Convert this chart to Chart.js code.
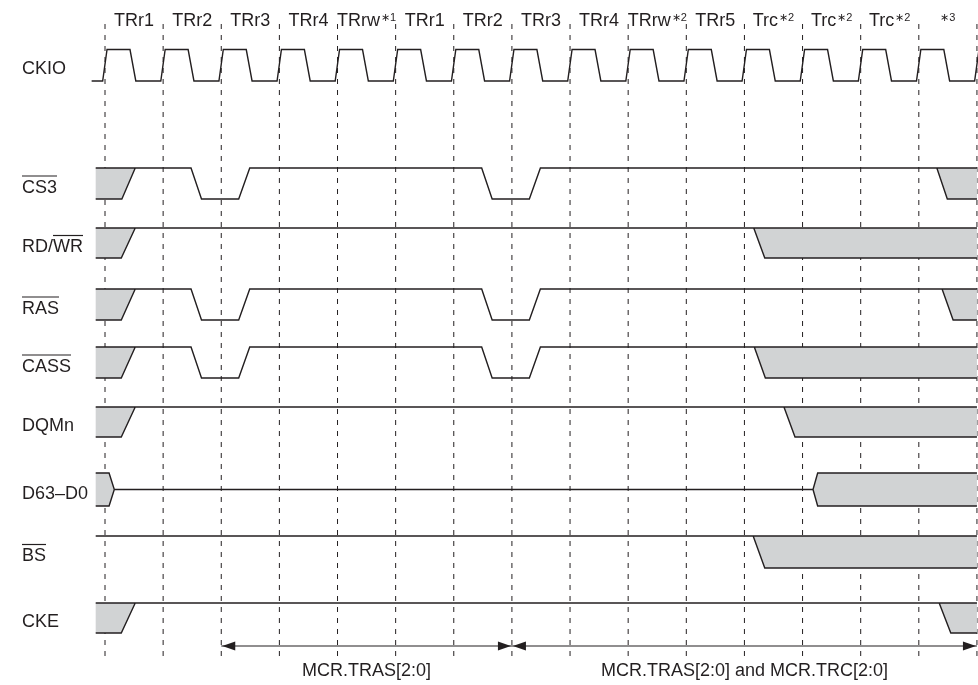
<!DOCTYPE html>
<html>
<head>
<meta charset="utf-8">
<title>SDRAM auto-precharge read timing</title>
<script src="https://cdn.jsdelivr.net/npm/chart.js@4.4.0/dist/chart.umd.min.js"></script>
<style>
  html, body { margin: 0; padding: 0; background: #fff; }
  canvas { display: block; }
</style>
</head>
<body>
<canvas id="timing" width="978" height="685"></canvas>
<script>
// cycle names along the top, with the footnote marks that follow them
const cycleNames = ['TRr1', 'TRr2', 'TRr3', 'TRr4', 'TRrw', 'TRr1', 'TRr2', 'TRr3', 'TRr4', 'TRrw', 'TRr5', 'Trc', 'Trc', 'Trc', ''];
const cycleNotes = ['', '', '', '', '∗1', '', '', '', '', '∗2', '', '∗2', '∗2', '∗2', '∗3'];
const cycleBounds = [0, 1, 2, 3, 4, 5, 6, 7, 8, 9, 10, 11, 12, 13, 14, 15];

// signal names; overline = [first char, last char) that carries the bar
const signalNames = ['CKIO', 'CS3', 'RD/WR', 'RAS', 'CASS', 'DQMn', 'D63–D0', 'BS', 'CKE'];
const overlines = [null, [0, 3], [3, 5], [0, 3], [0, 4], null, null, [0, 2], null];

// clock edges, in cycles
const clockRise = [0, 1, 2, 3, 4, 5, 6, 7, 8, 9, 10, 11, 12, 13, 14, 15];
const clockFall = [0.48, 1.48, 2.48, 3.48, 4.48, 5.48, 6.48, 7.48, 8.48, 9.48, 10.48, 11.48, 12.48, 13.48, 14.48];

// waveforms: polylines of [cycle, level] (1 high, 0 low, 0.5 hi-Z)
const T0 = -0.16, T1 = 15;
const cs3Wave = [
  [[T0, 0], [0.29, 0], [0.52, 1]],
  [[T0, 1], [1.48, 1], [1.66, 0], [2.30, 0], [2.49, 1], [6.48, 1], [6.66, 0], [7.30, 0], [7.49, 1], [14.31, 1], [14.49, 0], [T1, 0]],
  [[14.31, 1], [T1, 1]]
];
const rdwrWave = [
  [[T0, 0], [0.28, 0], [0.52, 1]],
  [[T0, 1], [11.16, 1], [11.35, 0], [T1, 0]],
  [[11.16, 1], [T1, 1]]
];
const rasWave = [
  [[T0, 0], [0.28, 0], [0.52, 1]],
  [[T0, 1], [1.48, 1], [1.66, 0], [2.30, 0], [2.49, 1], [6.48, 1], [6.66, 0], [7.30, 0], [7.49, 1], [14.40, 1], [14.59, 0], [T1, 0]],
  [[14.40, 1], [T1, 1]]
];
const cassWave = [
  [[T0, 0], [0.28, 0], [0.52, 1]],
  [[T0, 1], [1.48, 1], [1.66, 0], [2.30, 0], [2.49, 1], [6.48, 1], [6.66, 0], [7.30, 0], [7.49, 1], [11.17, 1], [11.36, 0], [T1, 0]],
  [[11.17, 1], [T1, 1]]
];
const dqmWave = [
  [[T0, 0], [0.28, 0], [0.52, 1]],
  [[T0, 1], [11.68, 1], [11.87, 0], [T1, 0]],
  [[11.68, 1], [T1, 1]]
];
const dataWave = [
  [[T0, 1], [0.07, 1], [0.16, 0.5], [0.07, 0], [T0, 0]],
  [[0.16, 0.5], [12.18, 0.5], [12.26, 1], [T1, 1]],
  [[12.18, 0.5], [12.26, 0], [T1, 0]]
];
const bsWave = [
  [[T0, 1], [11.15, 1], [11.35, 0], [T1, 0]],
  [[11.15, 1], [T1, 1]]
];
const ckeWave = [
  [[T0, 0], [0.28, 0], [0.52, 1]],
  [[T0, 1], [14.35, 1], [14.55, 0], [T1, 0]],
  [[14.35, 1], [T1, 1]]
];

// shaded (undefined / driven) regions
const startShade = [[T0, 1], [0.52, 1], [0.28, 0], [T0, 0]];
const cs3Shade = [startShade, [[14.31, 1], [T1, 1], [T1, 0], [14.49, 0]]];
const rdwrShade = [startShade, [[11.16, 1], [T1, 1], [T1, 0], [11.35, 0]]];
const rasShade = [startShade, [[14.40, 1], [T1, 1], [T1, 0], [14.59, 0]]];
const cassShade = [startShade, [[11.17, 1], [T1, 1], [T1, 0], [11.36, 0]]];
const dqmShade = [startShade, [[11.68, 1], [T1, 1], [T1, 0], [11.87, 0]]];
const dataShade = [[[T0, 1], [0.07, 1], [0.16, 0.5], [0.07, 0], [T0, 0]], [[12.18, 0.5], [12.26, 1], [T1, 1], [T1, 0], [12.26, 0]]];
const bsShade = [[[11.15, 1], [T1, 1], [T1, 0], [11.35, 0]]];
const ckeShade = [startShade, [[14.35, 1], [T1, 1], [T1, 0], [14.55, 0]]];

// spans measured below the diagram
const spanFrom = [2, 7];
const spanTo = [7, 15];
const spanText = ['MCR.TRAS[2:0]', 'MCR.TRAS[2:0] and MCR.TRC[2:0]'];

// ---- layout (pixels) ----
const laneTop = [49.5, 168, 228, 289, 347, 407, 473, 536, 603];
const laneAmp = [31.5, 31, 30, 31, 31, 30, 33, 32, 30];
const gridTop = 24, gridBottom = 659, arrowY = 646, captionBase = 676;
const INK = '#231f20', GRAY = '#d1d3d4';
const FONT = '"Liberation Sans", Arial, Helvetica, sans-serif';

function lanePoints(poly, lane) {
  return poly.map(p => ({ x: p[0], y: laneTop[lane] + (1 - p[1]) * laneAmp[lane] }));
}
function joined(polys, lane) {
  const out = [];
  polys.forEach((poly, i) => {
    if (i > 0) out.push({ x: poly[0][0], y: null });
    out.push(...lanePoints(poly, lane));
  });
  return out;
}

// clock polyline from its edges
const clockWave = [[-0.23, 0]];
clockRise.forEach((r, i) => {
  clockWave.push([r - 0.04, 0], [r + 0.035, 1]);
  if (clockFall[i] !== undefined) clockWave.push([clockFall[i] - 0.05, 1], [clockFall[i] + 0.05, 0]);
});

const waves = [[clockWave], cs3Wave, rdwrWave, rasWave, cassWave, dqmWave, dataWave, bsWave, ckeWave];
const shades = [[], cs3Shade, rdwrShade, rasShade, cassShade, dqmShade, dataShade, bsShade, ckeShade];

const datasets = [];

// cycle boundaries
const gridPts = [];
cycleBounds.forEach((k, i) => {
  if (i > 0) gridPts.push({ x: k, y: null });
  gridPts.push({ x: k, y: gridTop }, { x: k, y: gridBottom });
});
datasets.push({ data: gridPts, borderColor: INK, borderWidth: 1, borderDash: [5, 6], order: 3 });

waves.forEach((w, lane) => {
  datasets.push({ data: joined(w, lane), borderColor: INK, borderWidth: 1.4, order: 1 });
});
shades.forEach((list, lane) => {
  list.forEach(poly => {
    datasets.push({ data: lanePoints(poly, lane), fill: 'shape', backgroundColor: GRAY,
      borderColor: 'rgba(0,0,0,0)', borderWidth: 1, order: 2 });
  });
});

// span arrow line
datasets.push({ data: [{ x: spanFrom[0], y: arrowY }, { x: spanTo[spanTo.length - 1], y: arrowY }],
  borderColor: INK, borderWidth: 1.2, order: 1 });

const textPlugin = {
  id: 'timingText',
  afterDatasetsDraw(chart) {
    const { ctx } = chart;
    const xs = chart.scales.x, ys = chart.scales.y;
    ctx.save();
    ctx.fillStyle = INK;
    ctx.strokeStyle = INK;
    ctx.textBaseline = 'alphabetic';

    // cycle names
    cycleNames.forEach((name, i) => {
      ctx.font = '18px ' + FONT;
      const w1 = ctx.measureText(name).width;
      ctx.font = '11px ' + FONT;
      const w2 = cycleNotes[i] ? ctx.measureText(cycleNotes[i]).width + (name ? 1 : 0) : 0;
      const cx = xs.getPixelForValue(i + 0.5);
      const left = cx - (w1 + w2) / 2;
      const base = ys.getPixelForValue(26);
      ctx.font = '18px ' + FONT;
      ctx.textAlign = 'left';
      ctx.fillText(name, left, base);
      if (cycleNotes[i]) {
        ctx.font = '11px ' + FONT;
        ctx.fillText(cycleNotes[i], left + w1 + (name ? 1 : 0), base - 5);
      }
    });

    // signal names
    ctx.font = '18px ' + FONT;
    ctx.textAlign = 'left';
    signalNames.forEach((name, lane) => {
      const base = ys.getPixelForValue(laneTop[lane] + laneAmp[lane] / 2 + 9);
      const lx = 22;
      ctx.fillText(name, lx, base);
      const ol = overlines[lane];
      if (ol) {
        const a = lx + ctx.measureText(name.slice(0, ol[0])).width;
        const b = lx + ctx.measureText(name.slice(0, ol[1])).width;
        ctx.lineWidth = 1.2;
        ctx.beginPath();
        ctx.moveTo(a, base - 16.5);
        ctx.lineTo(b, base - 16.5);
        ctx.stroke();
      }
    });

    // arrowheads and span captions
    const ay = ys.getPixelForValue(arrowY);
    const head = (tipX, dir) => {
      ctx.beginPath();
      ctx.moveTo(tipX, ay);
      ctx.lineTo(tipX - dir * 13, ay - 4.5);
      ctx.lineTo(tipX - dir * 13, ay + 4.5);
      ctx.closePath();
      ctx.fill();
    };
    ctx.textAlign = 'center';
    spanFrom.forEach((s, i) => {
      const a = xs.getPixelForValue(s), b = xs.getPixelForValue(spanTo[i]);
      head(a + 1, -1);
      head(b - 1, 1);
      ctx.fillText(spanText[i], (a + b) / 2, ys.getPixelForValue(captionBase));
    });
    ctx.restore();
  }
};

// x: 1 unit = one clock cycle; y: lane layout in pixels (top down)
const pxPerCycle = 58.13;
const xMin = -105 / pxPerCycle;

new Chart(document.getElementById('timing'), {
  type: 'line',
  data: { datasets: datasets },
  options: {
    responsive: false,
    animation: false,
    events: [],
    layout: { padding: 0 },
    elements: { point: { radius: 0 }, line: { tension: 0, fill: false } },
    spanGaps: false,
    plugins: { legend: { display: false }, tooltip: { enabled: false } },
    scales: {
      x: { type: 'linear', display: false, min: xMin, max: xMin + 978 / pxPerCycle },
      y: { type: 'linear', display: false, min: 0, max: 685, reverse: true }
    }
  },
  plugins: [textPlugin]
});
</script>
</body>
</html>
